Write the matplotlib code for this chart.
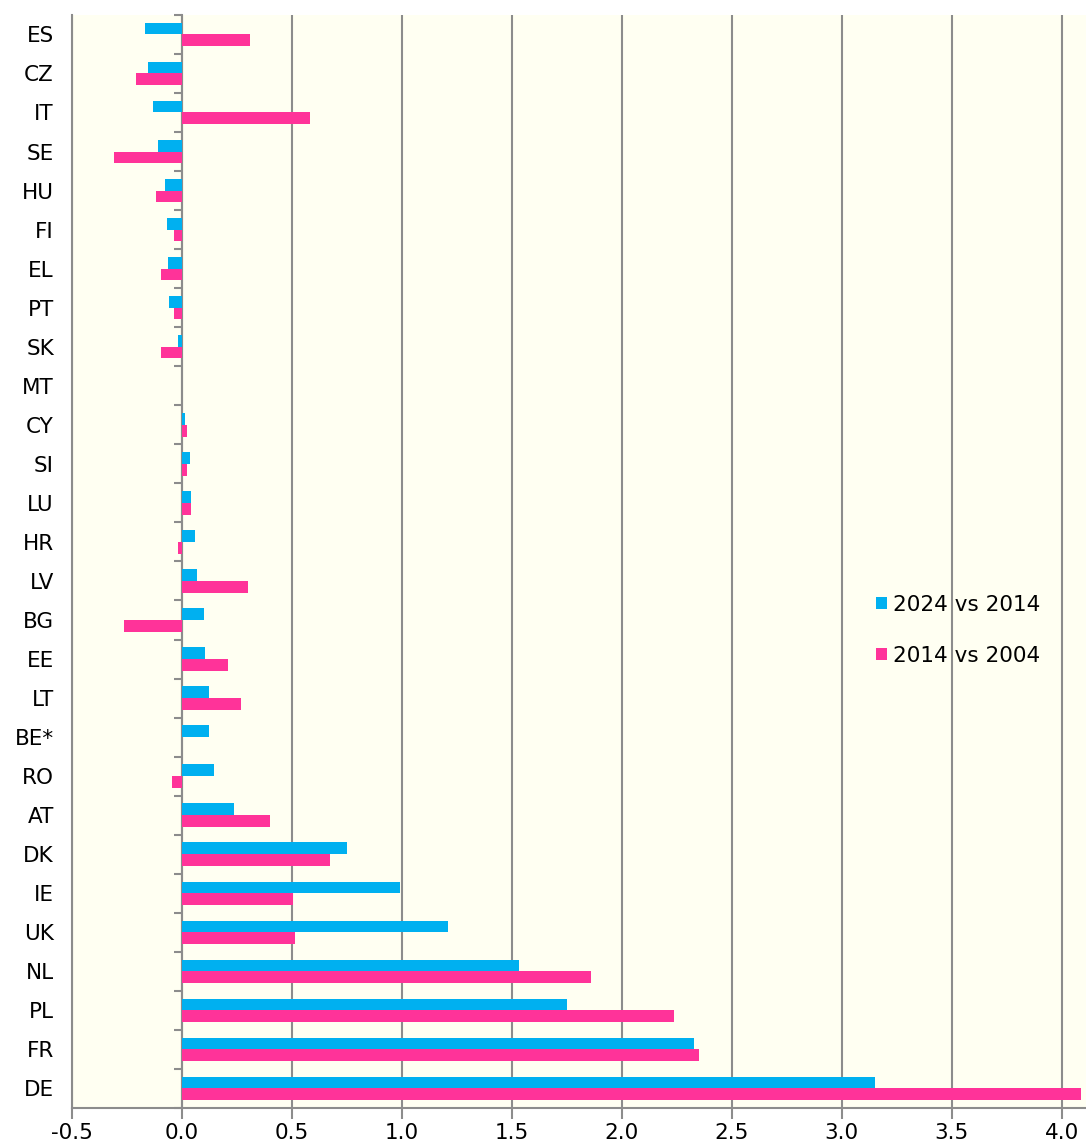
import numpy as np
import matplotlib
matplotlib.use("Agg")
import matplotlib.pyplot as plt

countries = ["ES", "CZ", "IT", "SE", "HU", "FI", "EL", "PT", "SK", "MT",
             "CY", "SI", "LU", "HR", "LV", "BG", "EE", "LT", "BE*", "RO",
             "AT", "DK", "IE", "UK", "NL", "PL", "FR", "DE"]
v_2024_2014 = [-0.17, -0.155, -0.13, -0.11, -0.077, -0.07, -0.065, -0.06, -0.02, 0.0,
               0.015, 0.035, 0.04, 0.057, 0.07, 0.10, 0.105, 0.125, 0.125, 0.145,
               0.235, 0.75, 0.99, 1.21, 1.53, 1.75, 2.33, 3.15]
v_2014_2004 = [0.31, -0.21, 0.58, -0.31, -0.12, -0.035, -0.095, -0.035, -0.095, 0.0,
               0.025, 0.025, 0.04, -0.02, 0.30, -0.265, 0.21, 0.27, np.nan, -0.045,
               0.40, 0.675, 0.505, 0.515, 1.86, 2.235, 2.35, 4.085]
labels = ["2024 vs 2014", "2014 vs 2004"]

BLUE = "#00B0F0"
PINK = "#FF3399"
GRID = "#8C8C8C"
FS = 15.5

fig = plt.figure(figsize=(10.86, 11.46), dpi=100)
ax = fig.add_axes([0.0663, 0.0332, 0.9337, 0.9538])
ax.set_facecolor("#FFFFF2")

n = len(countries)
y = np.arange(n)[::-1]
h = 0.3
ax.barh(y + h / 2, v_2024_2014, height=h, color=BLUE, label=labels[0], zorder=3)
ax.barh(y - h / 2, v_2014_2004, height=h, color=PINK, label=labels[1], zorder=3)

xmin, xmax = -0.5, 4.11
ax.set_xlim(xmin, xmax)
ax.set_ylim(-0.5, n - 0.5)

xt = np.arange(-0.5, 4.01, 0.5)
ax.set_xticks(xt)
ax.set_xticklabels([f"{t:.1f}" for t in xt], fontsize=FS)
ax.set_yticks(y)
ax.set_yticklabels(countries, fontsize=FS)
ax.tick_params(axis="y", length=0, pad=13)
ax.tick_params(axis="x", length=8, width=1.5, color=GRID, pad=3)

ax.grid(axis="x", color=GRID, linewidth=1.5, zorder=1)
ax.set_axisbelow(True)
for s in ["top", "right"]:
    ax.spines[s].set_visible(False)
for s in ["left", "bottom"]:
    ax.spines[s].set_color(GRID)
    ax.spines[s].set_linewidth(1.5)

# category boundary ticks on the zero line
zero_pos = (0 - xmin) / (xmax - xmin)
sec = ax.secondary_yaxis(zero_pos)
sec.set_yticks(np.arange(-0.5, n, 1.0))
sec.set_yticklabels([])
sec.tick_params(length=6, width=1.5, color=GRID)
sec.spines["left"].set_color(GRID)
sec.spines["left"].set_linewidth(1.5)

ax.legend(loc="center left", bbox_to_anchor=(0.774, 0.437), frameon=False,
          fontsize=FS, handlelength=0.5, handleheight=0.5,
          handletextpad=0.3, labelspacing=1.45)

fig.savefig("out.png", dpi=100)
